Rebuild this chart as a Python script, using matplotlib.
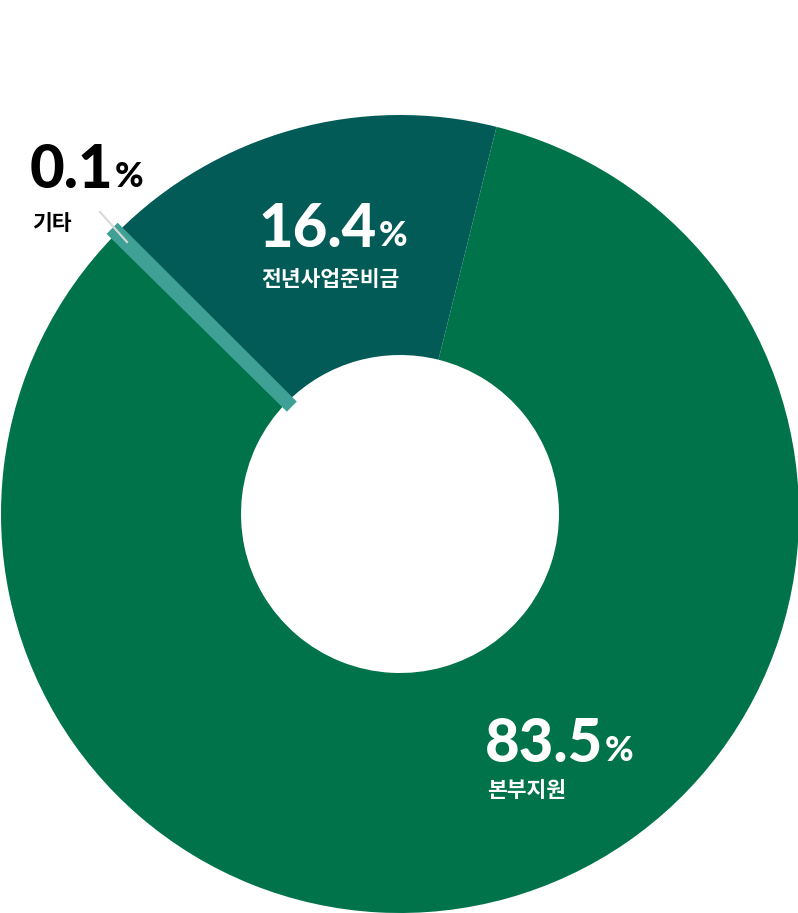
import matplotlib
matplotlib.use('Agg')
import matplotlib.pyplot as plt
from matplotlib.patches import Wedge

# data
labels = ['본부지원', '기타', '전년사업준비금']
values = [83.5, 0.1, 16.4]
pct_text = ['83.5', '0.1', '16.4']
colors = ['#00734a', '#3fa195', '#025b57']

W, H = 798, 913
fig = plt.figure(figsize=(W / 100, H / 100), dpi=100)
ax = fig.add_axes([0, 0, 1, 1])

cx, cy = 400, H - 514
R, ring_w = 399, 240

wedges, _ = ax.pie(values, colors=colors, startangle=76.0, counterclock=False,
                   center=(cx, cy), radius=R, frame=True,
                   wedgeprops=dict(width=ring_w, linewidth=0))
ax.set_xlim(0, W)
ax.set_ylim(0, H)
ax.axis('off')

# 기타 slice is too thin to see, draw it as a band clipped to the ring
ring = Wedge((cx, cy), R, 0, 360, width=ring_w, transform=ax.transData)
wedges[1].set_edgecolor(colors[1])
wedges[1].set_linewidth(9.5)
wedges[1].set_zorder(3)
wedges[1].set_clip_path(ring)

# leader line for 기타
ax.plot([100, 127], [H - 212, H - 242], color='#d9d9d9', lw=1.5, zorder=4)

num_font = dict(family='Lato', fontweight='black', fontsize=43)
pct_font = dict(family='Lato', fontweight='black', fontsize=25)
kr_font = dict(family=['Noto Sans CJK KR', 'DejaVu Sans'], fontweight='heavy', fontsize=15.5)

# (x, baseline of number, baseline of label, colour)
spots = [(485, 762, 797, 'white'), (30, 188, 230, 'black'), (259, 247, 286, 'white')]

for i in range(3):
    x, yb, yl, c = spots[i]
    t = ax.text(x, H - yb, pct_text[i], color=c, ha='left', va='baseline', zorder=5, **num_font)
    ax.annotate('%', xy=(1, 0), xycoords=t, xytext=(1, 3.5), textcoords='offset points',
                ha='left', va='bottom', color=c, zorder=5, **pct_font)
    ax.text(x + 2, H - yl, labels[i], color=c, ha='left', va='baseline', zorder=5, **kr_font)

fig.savefig('out.png', dpi=100)
